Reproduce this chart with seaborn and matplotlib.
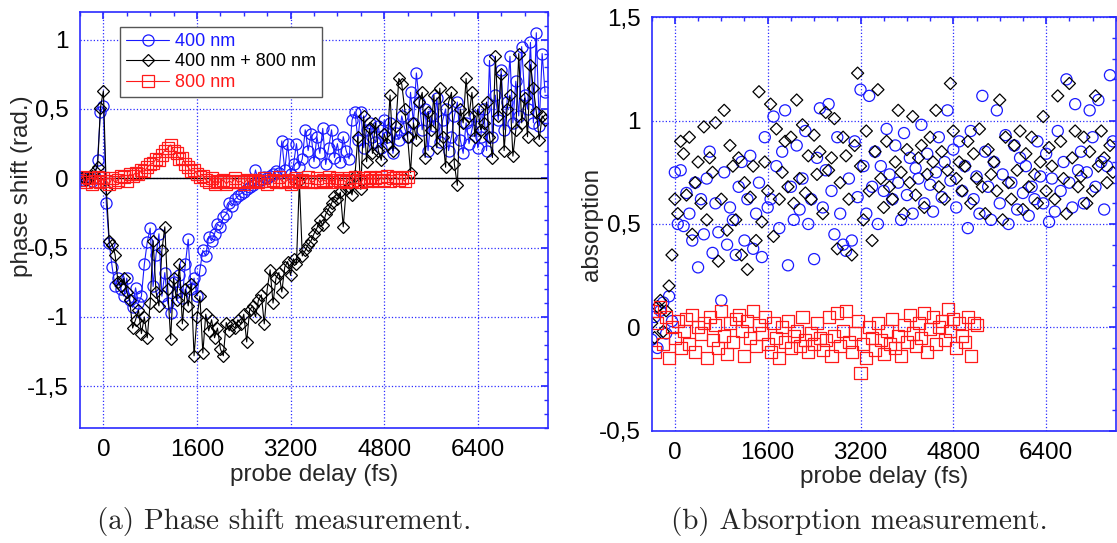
import numpy as np
import matplotlib
matplotlib.use("Agg")
import matplotlib.pyplot as plt
import seaborn as sns
from matplotlib.ticker import MultipleLocator

sns.set_theme(style="white")
plt.rcParams['font.family'] = ['Liberation Sans', 'DejaVu Sans']

# probe delay grid: start (fs) and step (fs)
t0 = -400
dt = 50

# (a) phase shift (rad.)
phase_400 = [
    0.00, -0.01, 0.01, 0.00, -0.02, 0.01, 0.13, 0.48, 0.52, -0.18,
    -0.47, -0.64, -0.78, -0.72, -0.80, -0.85, -0.72, -0.88, -0.93, -0.79,
    -0.90, -0.85, -0.62, -0.46, -0.36, -0.78, -0.55, -0.40, -0.85, -0.68,
    -0.90, -0.97, -0.75, -0.82, -0.70, -0.86, -0.62, -0.44, -0.80, -0.72,
    -0.85, -0.66, -0.52, -0.56, -0.42, -0.45, -0.40, -0.33, -0.35, -0.28,
    -0.26, -0.18, -0.20, -0.15, -0.13, -0.11, -0.10, -0.08, -0.06, -0.05,
    0.06, -0.02, -0.01, 0.01, 0.00, 0.02, 0.03, 0.05, 0.04, 0.27,
    0.06, 0.25, 0.03, 0.10, 0.25, 0.08, 0.14, 0.35, 0.20, 0.32,
    0.12, 0.30, 0.18, 0.36, 0.10, 0.22, 0.35, 0.15, 0.25, 0.12,
    0.30, 0.20, 0.14, 0.42, 0.48, 0.28, 0.48, 0.22, 0.35, 0.40,
    0.30, 0.26, 0.38, 0.22, 0.42, 0.30, 0.40, 0.18, 0.33, 0.28,
    0.45, 0.36, 0.30, 0.62, 0.40, 0.76, 0.55, 0.35, 0.50, 0.20,
    0.45, 0.38, 0.58, 0.26, 0.42, 0.50, 0.20, 0.30, 0.45, 0.55,
    0.28, 0.18, 0.40, 0.25, 0.35, 0.45, 0.22, 0.30, 0.50, 0.20,
    0.85, 0.30, 0.60, 0.42, 0.78, 0.35, 0.55, 0.88, 0.40, 0.70,
    0.45, 0.95, 0.60, 0.50, 0.98, 0.40, 1.05, 0.38, 0.90, 0.62,
]
phase_both = [
    0.00, 0.01, -0.01, 0.00, 0.02, 0.05, 0.08, 0.51, 0.63, -0.08,
    -0.45, -0.48, -0.55, -0.75, -0.78, -0.72, -0.82, -0.88, -1.08, -1.02,
    -0.95, -1.12, -1.00, -1.15, -0.90, -0.45, -0.82, -0.92, -0.52, -0.35,
    -0.80, -1.16, -0.72, -0.88, -0.62, -1.05, -0.80, -0.92, -0.76, -1.28,
    -1.00, -0.85, -1.26, -0.98, -1.10, -1.02, -1.15, -1.08, -1.23, -1.28,
    -1.04, -1.10, -1.06, -1.08, -1.02, -1.05, -0.98, -1.18, -0.95, -0.92,
    -1.00, -0.88, -0.84, -1.05, -0.80, -0.66, -0.90, -0.72, -0.68, -0.82,
    -0.64, -0.60, -0.70, -0.58, -0.62, -0.02, -0.56, -0.52, -0.48, -0.45,
    -0.40, -0.36, -0.30, -0.34, -0.26, -0.22, -0.18, -0.13, -0.15, -0.10,
    -0.35, -0.08, -0.06, -0.12, 0.02, 0.30, -0.08, 0.45, 0.12, 0.36,
    0.18, 0.40, 0.20, 0.13, 0.32, 0.25, 0.60, 0.20, 0.38, 0.72,
    0.68, 0.50, 0.30, 0.04, 0.40, 0.28, 0.55, 0.62, 0.15, 0.48,
    0.35, 0.60, 0.22, 0.65, 0.30, 0.08, 0.55, 0.62, 0.10, -0.05,
    0.50, 0.40, 0.72, 0.45, 0.62, 0.30, 0.50, 0.35, 0.40, 0.55,
    0.30, 0.15, 0.88, 0.45, 0.75, 0.20, 0.50, 0.60, 0.16, 0.35,
    0.90, 0.40, 0.58, 0.30, 0.82, 0.65, 0.48, 0.28, 0.45, 0.42,
]
phase_800 = [
    -0.01, 0.01, -0.03, 0.00, -0.04, -0.02, 0.01, -0.03, 0.00, -0.02,
    -0.04, 0.00, -0.03, -0.01, 0.02, 0.01, -0.02, 0.03, 0.02, 0.04,
    0.03, 0.06, 0.05, 0.08, 0.10, 0.11, 0.14, 0.13, 0.17, 0.20,
    0.22, 0.24, 0.20, 0.18, 0.14, 0.15, 0.10, 0.08, 0.05, 0.06,
    0.03, 0.01, 0.02, -0.01, -0.03, 0.00, -0.04, -0.02, -0.03, -0.01,
    -0.04, -0.02, -0.03, 0.00, -0.03, -0.02, -0.04, -0.01, -0.03, -0.02,
    -0.01, -0.03, -0.02, 0.00, -0.04, -0.02, -0.01, -0.03, 0.01, -0.02,
    -0.03, -0.01, -0.04, -0.02, 0.00, -0.03, -0.01, -0.02, 0.01, -0.03,
    -0.02, 0.00, -0.03, -0.01, -0.02, 0.01, -0.03, -0.01, 0.00, -0.02,
    -0.01, -0.03, 0.00, -0.02, 0.01, -0.01, -0.03, 0.00, -0.02, 0.01,
    -0.01, 0.00, -0.02, 0.01, -0.01, 0.02, -0.02, 0.00, 0.01, -0.01,
    0.00, -0.02, 0.01,
]

# (b) absorption
abs_400 = [
    -0.06, 0.05, -0.10, 0.08, 0.12, -0.03, 0.15, 0.03,
    0.75, 0.50, 0.76, 0.49, 0.65, 0.55, 0.42, 0.70, 0.29, 0.62,
    0.45, 0.72, 0.85, 0.36, 0.60, 0.46, 0.13, 0.75, 0.40, 0.58,
    0.52, 0.35, 0.68, 0.80, 0.42, 0.62, 0.83, 0.38, 0.55, 0.70,
    0.34, 0.92, 0.58, 0.62, 1.02, 0.78, 0.48, 0.85, 1.05, 0.30,
    0.68, 0.52, 0.88, 0.57, 0.72, 0.95, 0.50, 0.62, 0.33, 0.82,
    1.06, 0.58, 0.76, 1.08, 0.66, 0.45, 0.92, 0.55, 0.40, 0.37,
    0.72, 0.42, 0.90, 0.63, 1.15, 0.78, 0.55, 1.12, 0.68, 0.85,
    0.50, 0.78, 0.66, 0.96, 0.74, 0.62, 0.88, 0.70, 0.52, 0.94,
    0.64, 0.82, 0.55, 0.77, 0.72, 0.98, 0.60, 0.84, 0.69, 0.56,
    0.75, 0.92, 0.63, 0.80, 1.05, 0.71, 0.86, 0.58, 0.90, 0.66,
    0.78, 0.48, 0.95, 0.62, 0.73, 0.55, 1.12, 0.85, 0.68, 0.52,
    0.80, 1.05, 0.60, 0.74, 0.93, 0.50, 0.70, 0.88, 0.57, 0.82,
    0.65, 0.78, 0.54, 0.68, 0.62, 0.90, 0.73, 0.60, 0.84, 0.51,
    0.72, 0.56, 0.95, 0.66, 0.80, 1.20, 0.70, 0.58, 1.08, 0.76,
    0.85, 0.60, 0.75, 1.05, 0.92, 0.68, 1.10, 0.80, 0.57, 0.78,
    1.22, 0.90,
]
abs_both = [
    0.02, -0.05, 0.10, 0.13, -0.02, 0.08, 0.20, 0.35,
    0.62, 0.55, 0.90, 0.84, 0.64, 0.92, 0.45, 0.70, 0.80, 0.60,
    0.97, 0.52, 0.82, 0.75, 0.99, 0.32, 0.62, 1.05, 0.47, 0.88,
    0.78, 0.52, 0.82, 0.35, 0.70, 0.28, 0.63, 0.78, 0.42, 1.14,
    0.51, 0.80, 0.66, 1.08, 0.44, 0.96, 0.62, 0.75, 0.90, 0.68,
    0.92, 0.60, 1.10, 0.72, 0.98, 0.65, 0.83, 0.62, 0.93, 0.74,
    0.85, 0.55, 1.04, 0.76, 0.82, 1.01, 0.38, 0.70, 0.92, 0.83,
    0.62, 0.35, 0.88, 1.23, 0.78, 0.52, 0.95, 0.66, 0.42, 0.85,
    1.15, 0.72, 0.58, 0.90, 0.68, 0.62, 0.80, 1.05, 0.75, 0.55,
    0.86, 0.70, 1.02, 0.64, 0.82, 0.88, 0.58, 0.74, 0.92, 0.80,
    1.05, 0.68, 0.85, 0.62, 0.76, 1.18, 0.95, 0.72, 0.80, 0.66,
    0.78, 0.90, 0.60, 0.84, 0.72, 0.96, 0.68, 0.55, 0.86, 0.74,
    0.80, 0.66, 1.10, 0.52, 0.92, 0.70, 0.62, 0.88, 0.76, 0.95,
    0.57, 0.84, 0.68, 0.92, 0.74, 0.60, 0.80, 1.02, 0.66, 0.87,
    0.78, 0.62, 1.12, 0.90, 0.72, 0.55, 1.18, 0.82, 0.95, 0.68,
    0.73, 0.92, 0.60, 0.85, 0.66, 1.12, 0.78, 0.95, 0.82, 0.70,
    0.88, 0.75,
]
abs_800 = [
    0.08, -0.12, 0.02, 0.10, -0.08, 0.05, -0.15, 0.00, -0.05, 0.03,
    -0.10, -0.02, 0.04, -0.08, 0.06, -0.12, 0.00, -0.03, 0.02, -0.15,
    0.05, -0.06, 0.01, -0.10, 0.08, -0.04, -0.13, 0.02, -0.07, 0.04,
    0.06, -0.02, -0.14, 0.03, -0.05, 0.08, -0.09, 0.01, -0.03, 0.05,
    -0.08, -0.12, 0.02, -0.05, -0.15, 0.00, -0.07, 0.03, -0.10, -0.04,
    -0.02, -0.09, 0.05, -0.06, -0.12, -0.03, -0.08, 0.02, -0.05, -0.11,
    -0.06, 0.05, -0.14, -0.04, 0.07, -0.09, -0.02, 0.08, -0.07, -0.12,
    -0.03, 0.03, -0.22, -0.08, -0.15, 0.00, -0.05, -0.11, 0.02, -0.06,
    -0.13, -0.02, -0.08, 0.04, -0.10, -0.04, -0.14, 0.01, -0.07, 0.06,
    -0.03, -0.09, 0.02, -0.05, 0.07, -0.12, -0.01, 0.05, -0.08, 0.00,
    0.03, -0.06, 0.09, -0.02, 0.04, -0.10, 0.02, -0.04, -0.07, 0.05,
    -0.14, 0.02, 0.01,
]

xticks = [0, 1600, 3200, 4800, 6400]
yticks_a = [-1.5, -1, -0.5, 0, 0.5, 1]
ylabels_a = ["-1,5", "-1", "-0,5", "0", "0,5", "1"]
yticks_b = [-0.5, 0, 0.5, 1, 1.5]
ylabels_b = ["-0,5", "0", "0,5", "1", "1,5"]

BLUE = "#1a1aff"
RED = "#ff1a1a"
AXBLUE = "#2b2bff"
FS = 17.5


def delays(vals):
    return t0 + dt * np.arange(len(vals))


def style(ax, yt, yl, ylim):
    ax.set_xlim(-400, 7600)
    ax.set_ylim(*ylim)
    ax.set_xticks(xticks)
    ax.set_xticklabels([str(v) for v in xticks])
    ax.set_yticks(yt)
    ax.set_yticklabels(yl)
    ax.xaxis.set_minor_locator(MultipleLocator(400))
    ax.yaxis.set_minor_locator(MultipleLocator(0.1))
    ax.grid(True, which="major", color=AXBLUE, linestyle=":", linewidth=0.9)
    ax.tick_params(which="both", direction="in", top=True, right=True,
                   color=AXBLUE, labelcolor="black", labelsize=FS)
    ax.tick_params(which="major", length=5, pad=8)
    ax.tick_params(which="minor", length=3)
    for sp in ax.spines.values():
        sp.set_color(AXBLUE)
        sp.set_linewidth(1.2)
    ax.set_xlabel("probe delay (fs)", fontsize=FS, labelpad=2)


fig = plt.figure(figsize=(11.17, 5.43), dpi=100)
ax1 = fig.add_axes([0.0716, 0.212, 0.419, 0.766])
ax2 = fig.add_axes([0.5834, 0.207, 0.4155, 0.761])

# (a) phase shift
ax1.axhline(0, color="black", linewidth=1, zorder=1)
line_kw = dict(linewidth=0.8, markerfacecolor="none", markeredgewidth=0.9)
sns.lineplot(x=delays(phase_400), y=phase_400, ax=ax1, color=BLUE,
             marker="o", markersize=8, markeredgecolor=BLUE,
             label="400 nm", **line_kw)
sns.lineplot(x=delays(phase_both), y=phase_both, ax=ax1, color="black",
             marker="D", markersize=6.5, markeredgecolor="black",
             label="400 nm + 800 nm", **line_kw)
sns.lineplot(x=delays(phase_800), y=phase_800, ax=ax1, color=RED,
             marker="s", markersize=8, markeredgecolor=RED,
             label="800 nm", **line_kw)
style(ax1, yticks_a, ylabels_a, (-1.8, 1.2))
ax1.set_ylabel("phase shift (rad.)", fontsize=FS)
ax1.yaxis.set_label_coords(-0.1, 0.58)
leg = ax1.legend(loc="upper left", bbox_to_anchor=(0.085, 0.965),
                 borderaxespad=0, fancybox=False, framealpha=1,
                 edgecolor="#555555", fontsize=13, handlelength=2.4,
                 handletextpad=0.3, labelspacing=0.2, borderpad=0.35)
leg.get_frame().set_linewidth(1.0)
for txt, c in zip(leg.get_texts(), [BLUE, "black", RED]):
    txt.set_color(c)

# (b) absorption
sc_kw = dict(facecolor="none", linewidth=0.9, legend=False)
sns.scatterplot(x=delays(abs_400), y=abs_400, ax=ax2, marker="o", s=64,
                edgecolor=BLUE, **sc_kw)
sns.scatterplot(x=delays(abs_both), y=abs_both, ax=ax2, marker="D", s=38,
                edgecolor="black", **sc_kw)
sns.scatterplot(x=delays(abs_800), y=abs_800, ax=ax2, marker="s", s=75,
                edgecolor=RED, **sc_kw)
style(ax2, yticks_b, ylabels_b, (-0.5, 1.5))
ax2.set_ylabel("absorption", fontsize=FS)
ax2.yaxis.set_label_coords(-0.105, 0.5)

fig.text(284 / 1117, 1 - 521 / 543, "(a) Phase shift measurement.",
         ha="center", va="center", fontfamily="cmr10", fontsize=21)
fig.text(859 / 1117, 1 - 521 / 543, "(b) Absorption measurement.",
         ha="center", va="center", fontfamily="cmr10", fontsize=21)

fig.savefig("out.png", dpi=100)
